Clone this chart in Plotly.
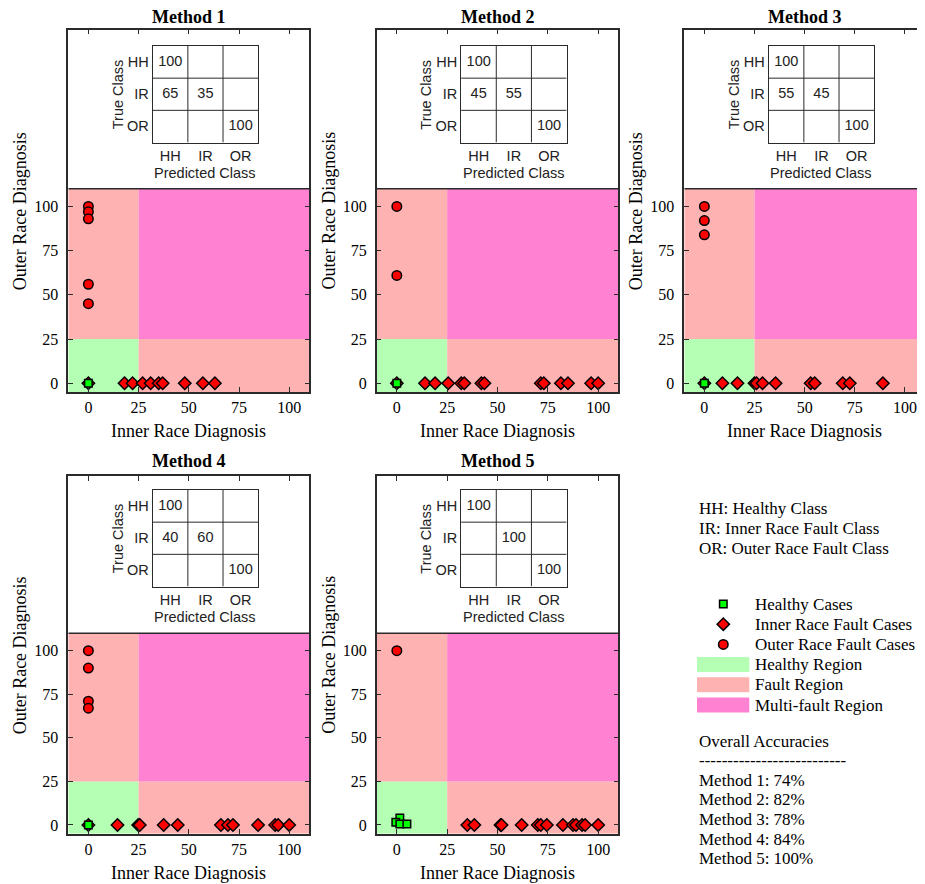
import plotly.graph_objects as go

# page offset (body margin) compensation
OFF = 8
W, H = 925 - OFF, 884 - OFF

# ---------------- data ----------------
methods = ["Method 1", "Method 2", "Method 3", "Method 4", "Method 5"]

# Inner race fault cases (x = inner race diagnosis, y = outer race diagnosis)
ir_x = [
    [0, 18, 22, 27, 31, 35, 37, 48, 57, 63],
    [0, 14, 19, 25.5, 32, 33.5, 42, 43.5, 71.5, 73, 81.5, 85, 96.5, 100],
    [0, 9, 16.5, 25, 26, 29, 35.5, 53, 55, 69, 72.5, 89],
    [0, 14.5, 24.8, 25.6, 37.5, 44.5, 66, 69.5, 72, 84.5, 93, 94.5, 100],
    [35, 38.5, 51.5, 52, 62, 70, 71.5, 74.5, 82.5, 87.5, 89, 92, 93.5, 100],
]
ir_y = [
    [0, 0, 0, 0, 0, 0, 0, 0, 0, 0],
    [0, 0, 0, 0, 0, 0, 0, 0, 0, 0, 0, 0, 0, 0],
    [0, 0, 0, 0, 0, 0, 0, 0, 0, 0, 0, 0],
    [0, 0, 0, 0, 0, 0, 0, 0, 0, 0, 0, 0, 0],
    [0, 0, 0, 0, 0, 0, 0, 0, 0, 0, 0, 0, 0, 0],
]
# Outer race fault cases
or_x = [[0, 0, 0, 0, 0], [0, 0], [0, 0, 0], [0, 0, 0, 0], [0]]
or_y = [[100, 97, 93, 56, 45], [100, 61], [100, 92, 84], [100, 90, 71, 67], [100]]
# Healthy cases
hh_x = [[0], [0], [0], [0], [1.5, -0.5, 1.5, 5]]
hh_y = [[0], [0], [0], [0], [4, 1.5, 0.5, 0.5]]

class_labels = ["HH", "IR", "OR"]
conf = [
    [[100, 0, 0], [65, 35, 0], [0, 0, 100]],
    [[100, 0, 0], [45, 55, 0], [0, 0, 100]],
    [[100, 0, 0], [55, 45, 0], [0, 0, 100]],
    [[100, 0, 0], [40, 60, 0], [0, 0, 100]],
    [[100, 0, 0], [0, 100, 0], [0, 0, 100]],
]
accuracy = [74, 82, 78, 84, 100]

threshold = 25
region_top = 110
x_range = [-10, 110]
y_range = [-5, 200]
ticks = [0, 25, 50, 75, 100]

# ---------------- style ----------------
SERIF = "Liberation Serif"
SANS = "Liberation Sans"
C_HEALTHY = "rgb(180,255,180)"
C_FAULT = "rgb(255,178,178)"
C_MULTI = "rgb(255,130,210)"
AX = "#2b2b2b"
SZ_DIA, SZ_CIR, SZ_SQ = 9.5, 9.5, 7.5

cols_px = [(68.3, 309.3), (376.7, 618.3), (684.3, 925.0)]
rows_px = [(29.7, 392.1), (476.4, 833.7)]
title_y = [17, 461]
inset_top = [46, 490]
inset_w, inset_h = 105.5, 96.5
inset_dx = 84.4


def fx(px):
    return (px - OFF) / W


def fy(py):
    return 1 - (py - OFF) / H


def ann(text, x, y, size, family=SERIF, color="black", angle=0, xanchor="center"):
    return dict(text=text, x=fx(x), y=fy(y), xref="paper", yref="paper", showarrow=False,
                xanchor=xanchor, yanchor="middle", textangle=angle,
                font=dict(family=family, size=size, color=color))


fig = go.Figure()
layout = {}
shapes = []
annotations = []

for i in range(5):
    n = i + 1
    r, c = divmod(i, 3)
    xl, xr = cols_px[c]
    yt, yb = rows_px[r]
    xa = "x" if n == 1 else f"x{n}"
    ya = "y" if n == 1 else f"y{n}"
    xk = "xaxis" if n == 1 else f"xaxis{n}"
    yk = "yaxis" if n == 1 else f"yaxis{n}"
    layout[xk] = dict(domain=[fx(xl), min(1, fx(xr))], anchor=ya, range=x_range,
                      tickmode="array", tickvals=ticks, ticks="inside", ticklen=5,
                      tickcolor=AX, automargin=False,
                      showline=True, linecolor=AX, linewidth=1.5, mirror="allticks",
                      showgrid=False, zeroline=False,
                      tickfont=dict(family=SERIF, size=16, color="black"))
    layout[yk] = dict(domain=[fy(yb), fy(yt)], anchor=xa, range=y_range,
                      tickmode="array", tickvals=ticks, ticks="inside", ticklen=5,
                      tickcolor=AX, automargin=False, ticklabelstandoff=5,
                      showline=True, linecolor=AX, linewidth=1.5, mirror="allticks",
                      showgrid=False, zeroline=False,
                      tickfont=dict(family=SERIF, size=16, color="black"))

    # regions
    regs = [
        (x_range[0], threshold, y_range[0], threshold, C_HEALTHY),
        (x_range[0], threshold, threshold, region_top, C_FAULT),
        (threshold, x_range[1], y_range[0], threshold, C_FAULT),
        (threshold, x_range[1], threshold, region_top, C_MULTI),
    ]
    for x0, x1, y0, y1, col in regs:
        shapes.append(dict(type="rect", xref=xa, yref=ya, x0=x0, x1=x1, y0=y0, y1=y1,
                           fillcolor=col, line=dict(width=0), layer="below"))
    shapes.append(dict(type="line", xref=xa, yref=ya, x0=x_range[0], x1=x_range[1],
                       y0=region_top, y1=region_top, line=dict(color=AX, width=1.5),
                       layer="above"))

    # points
    fig.add_trace(go.Scatter(x=ir_x[i], y=ir_y[i], mode="markers", xaxis=xa, yaxis=ya,
                             marker=dict(symbol="diamond", size=SZ_DIA, color="red",
                                         line=dict(color="black", width=1.5)),
                             hoverinfo="skip"))
    fig.add_trace(go.Scatter(x=or_x[i], y=or_y[i], mode="markers", xaxis=xa, yaxis=ya,
                             marker=dict(symbol="circle", size=SZ_CIR, color="red",
                                         line=dict(color="black", width=1.5)),
                             hoverinfo="skip"))
    fig.add_trace(go.Scatter(x=hh_x[i], y=hh_y[i], mode="markers", xaxis=xa, yaxis=ya,
                             marker=dict(symbol="square", size=SZ_SQ, color="#00ff00",
                                         line=dict(color="black", width=1.5)),
                             hoverinfo="skip"))

    # titles and labels
    cx_axis = (xl + xr) / 2
    annotations.append(ann(f"<b>{methods[i]}</b>", cx_axis, title_y[r], 18))
    annotations.append(ann("Inner Race Diagnosis", cx_axis, yb + 39, 18))
    annotations.append(ann("Outer Race Diagnosis", xl - 48, (yt + yb) / 2, 18, angle=-90))

    # confusion matrix inset
    m = n + 5
    gx0 = xl + inset_dx
    gy0 = inset_top[r]
    layout[f"xaxis{m}"] = dict(domain=[fx(gx0), fx(gx0 + inset_w)], anchor=f"y{m}",
                               range=[0.5, 3.5], tickmode="array", tickvals=[1, 2, 3],
                               ticktext=class_labels, automargin=False,
                               ticks="", showline=True, linecolor=AX, linewidth=1,
                               mirror=True, showgrid=False, zeroline=False,
                               tickfont=dict(family=SANS, size=14.5, color="#222"))
    layout[f"yaxis{m}"] = dict(domain=[fy(gy0 + inset_h), fy(gy0)], anchor=f"x{m}",
                               range=[3.5, 0.5], tickmode="array", tickvals=[1, 2, 3],
                               ticktext=class_labels, automargin=False,
                               ticks="", showline=True, linecolor=AX, linewidth=1,
                               mirror=True, showgrid=False, zeroline=False,
                               tickfont=dict(family=SANS, size=14.5, color="#222"))
    for b in (1.5, 2.5):
        shapes.append(dict(type="line", xref=f"x{m}", yref=f"y{m}", x0=b, x1=b, y0=0.5,
                           y1=3.5, line=dict(color=AX, width=1)))
        shapes.append(dict(type="line", xref=f"x{m}", yref=f"y{m}", x0=0.5, x1=3.5, y0=b,
                           y1=b, line=dict(color=AX, width=1)))
    cxs, cys, cts = [], [], []
    for ti in range(3):
        for pj in range(3):
            v = conf[i][ti][pj]
            if v:
                cxs.append(pj + 1)
                cys.append(ti + 1)
                cts.append(str(v))
    fig.add_trace(go.Scatter(x=cxs, y=cys, text=cts, mode="text", xaxis=f"x{m}",
                             yaxis=f"y{m}", textfont=dict(family=SANS, size=14.5, color="#222"),
                             hoverinfo="skip"))
    annotations.append(ann("True Class", gx0 - 34.7, gy0 + inset_h / 2, 14.5, SANS, "#222", -90))
    annotations.append(ann("Predicted Class", gx0 + inset_w / 2, gy0 + 127, 14.5, SANS, "#222"))

# ---------------- legend area ----------------
LX = 697
for k, t in enumerate(["HH: Healthy Class", "IR: Inner Race Fault Class",
                       "OR: Outer Race Fault Class"]):
    annotations.append(ann(t, LX, 508 + 20 * k, 17, xanchor="left"))

legend_rows = [604 + 20.2 * k for k in range(6)]
legend_text = ["Healthy Cases", "Inner Race Fault Cases", "Outer Race Fault Cases",
               "Healthy Region", "Fault Region", "Multi-fault Region"]
for k, t in enumerate(legend_text):
    annotations.append(ann(t, 753, legend_rows[k], 17, xanchor="left"))

layout["xaxis11"] = dict(domain=[0, 1], anchor="y11", range=[OFF, OFF + W], visible=False,
                         fixedrange=True, automargin=False)
layout["yaxis11"] = dict(domain=[0, 1], anchor="x11", range=[OFF + H, OFF], visible=False,
                         fixedrange=True, automargin=False)
leg_markers = [("square", SZ_SQ, "#00ff00"), ("diamond", SZ_DIA, "red"),
               ("circle", SZ_CIR, "red")]
for k, (sym, sz, col) in enumerate(leg_markers):
    fig.add_trace(go.Scatter(x=[723.3], y=[legend_rows[k]], mode="markers", xaxis="x11",
                             yaxis="y11",
                             marker=dict(symbol=sym, size=sz, color=col,
                                         line=dict(color="black", width=1.5)),
                             hoverinfo="skip"))
for k, col in enumerate([C_HEALTHY, C_FAULT, C_MULTI]):
    yc = legend_rows[3 + k]
    shapes.append(dict(type="rect", xref="paper", yref="paper", x0=fx(697), x1=fx(749.3),
                       y0=fy(yc + 7.5), y1=fy(yc - 7.5), fillcolor=col, line=dict(width=0)))

acc_lines = ["Overall Accuracies", "--------------------------"] + \
    [f"{methods[i]}: {accuracy[i]}%" for i in range(5)]
for k, t in enumerate(acc_lines):
    annotations.append(ann(t, LX, 741 + 19.6 * k, 17, xanchor="left"))

fig.update_layout(width=W, height=H, margin=dict(l=0, r=0, t=0, b=0, pad=0),
                  paper_bgcolor="white", plot_bgcolor="rgba(0,0,0,0)", showlegend=False,
                  shapes=shapes, annotations=annotations, **layout)

fig.write_html("out.html")
